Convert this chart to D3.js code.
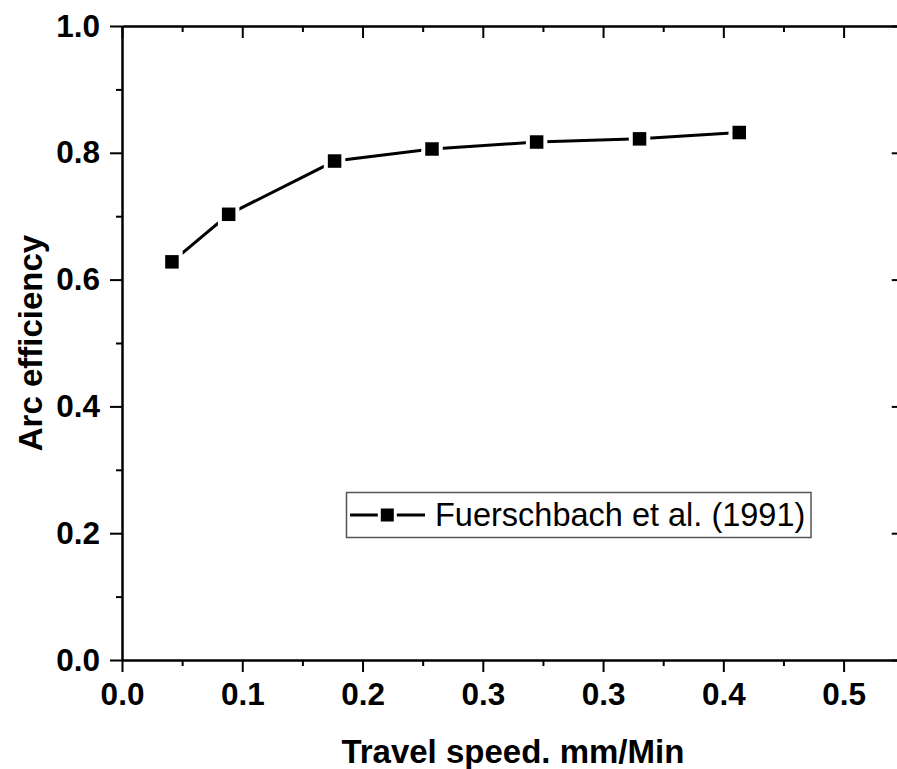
<!DOCTYPE html>
<html>
<head>
<meta charset="utf-8">
<script src="https://cdn.jsdelivr.net/npm/d3@7"></script>
<style>
  html, body { margin: 0; padding: 0; background: #fff; }
  svg { display: block; }
</style>
</head>
<body>
<svg id="chart" width="897" height="769"></svg>
<script>
// Arc efficiency vs travel speed (Fuerschbach et al., 1991)
const speed = [0.0346, 0.0739, 0.1473, 0.2148, 0.2873, 0.3586, 0.4277];
const efficiency = [0.628, 0.703, 0.787, 0.806, 0.817, 0.822, 0.832];
const seriesName = "Fuerschbach et al. (1991)";

// Tick positions: x steps of 1/12 (labels rounded to one decimal), y steps of 0.2
const xMajor = d3.range(0, 7).map(i => i * 0.5 / 6);
const xMinor = d3.range(0, 7).map(i => (i + 0.5) * 0.5 / 6);
const yMajor = [0, 0.2, 0.4, 0.6, 0.8, 1.0];
const yMinor = [0.1, 0.3, 0.5, 0.7, 0.9];

const xTitle = "Travel speed. mm/Min";
const yTitle = "Arc efficiency";

const plotLeft = 122, plotTop = 26, plotBottom = 660;
const xMax = 0.5 * 13 / 12;
const pxPerUnit = (843.3 - 121.7) / 0.5;
const plotRight = plotLeft + xMax * pxPerUnit;

const x = d3.scaleLinear().domain([0, xMax]).range([plotLeft, plotRight]);
const y = d3.scaleLinear().domain([0, 1]).range([plotBottom, plotTop]);

const svg = d3.select("#chart");
const font = "'Liberation Sans', Arial, Helvetica, sans-serif";
const fmt = d3.format(".1f");

function styleAxis(g) {
  g.selectAll("path.domain").attr("stroke", "#000").attr("stroke-width", 2);
  g.selectAll(".tick line").attr("stroke", "#000").attr("stroke-width", 2);
  g.selectAll(".tick text")
    .attr("font-family", font).attr("font-size", 31.5).attr("font-weight", "bold").attr("fill", "#000");
}

// bottom axis
svg.append("g").attr("transform", `translate(0,${plotBottom})`)
  .call(d3.axisBottom(x).tickValues(xMinor).tickSize(6).tickSizeOuter(0).tickFormat(""))
  .call(styleAxis);
svg.append("g").attr("transform", `translate(0,${plotBottom})`)
  .call(d3.axisBottom(x).tickValues(xMajor).tickSize(12).tickPadding(11).tickSizeOuter(0).tickFormat(fmt))
  .call(styleAxis);

// top axis (inward ticks)
svg.append("g").attr("transform", `translate(0,${plotTop})`)
  .call(d3.axisTop(x).tickValues(xMinor).tickSize(-6).tickSizeOuter(0).tickFormat(""))
  .call(styleAxis);
svg.append("g").attr("transform", `translate(0,${plotTop})`)
  .call(d3.axisTop(x).tickValues(xMajor).tickSize(-12).tickSizeOuter(0).tickFormat(""))
  .call(styleAxis);

// left axis
svg.append("g").attr("transform", `translate(${plotLeft},0)`)
  .call(d3.axisLeft(y).tickValues(yMinor).tickSize(6).tickSizeOuter(0).tickFormat(""))
  .call(styleAxis);
svg.append("g").attr("transform", `translate(${plotLeft},0)`)
  .call(d3.axisLeft(y).tickValues(yMajor).tickSize(12).tickPadding(10).tickSizeOuter(0).tickFormat(fmt))
  .call(styleAxis);

// right axis (inward ticks)
svg.append("g").attr("transform", `translate(${plotRight},0)`)
  .call(d3.axisRight(y).tickValues(yMinor).tickSize(-6).tickSizeOuter(0).tickFormat(""))
  .call(styleAxis);
svg.append("g").attr("transform", `translate(${plotRight},0)`)
  .call(d3.axisRight(y).tickValues(yMajor).tickSize(-12).tickSizeOuter(0).tickFormat(""))
  .call(styleAxis);

// axis titles
svg.append("text")
  .attr("x", (plotLeft + plotRight) / 2).attr("y", 763)
  .attr("text-anchor", "middle")
  .attr("font-family", font).attr("font-size", 33).attr("font-weight", "bold")
  .text(xTitle);
svg.append("text")
  .attr("transform", `translate(42,${(plotTop + plotBottom) / 2}) rotate(-90)`)
  .attr("text-anchor", "middle")
  .attr("font-family", font).attr("font-size", 33).attr("font-weight", "bold")
  .text(yTitle);

// series
const pts = speed.map((s, i) => [s, efficiency[i]]);
const line = d3.line().x(d => x(d[0])).y(d => y(d[1]));
svg.append("path").datum(pts)
  .attr("d", line).attr("fill", "none").attr("stroke", "#000").attr("stroke-width", 3);

const m = 13.5, gap = 4;
// white halo around each marker so the line stops short of it
svg.append("g").selectAll("rect").data(pts).join("rect")
  .attr("x", d => x(d[0]) - m / 2 - gap).attr("y", d => y(d[1]) - m / 2 - gap)
  .attr("width", m + 2 * gap).attr("height", m + 2 * gap).attr("fill", "#fff");
svg.append("g").selectAll("rect").data(pts).join("rect")
  .attr("x", d => x(d[0]) - m / 2).attr("y", d => y(d[1]) - m / 2)
  .attr("width", m).attr("height", m).attr("fill", "#000");

// legend
const lg = svg.append("g");
lg.append("rect").attr("x", 346.5).attr("y", 492.5).attr("width", 464.5).attr("height", 45)
  .attr("fill", "#fff").attr("stroke", "#555").attr("stroke-width", 1.5);
lg.append("line").attr("x1", 350).attr("x2", 425).attr("y1", 515).attr("y2", 515)
  .attr("stroke", "#000").attr("stroke-width", 3);
lg.append("rect").attr("x", 387.3 - 6.5 - 3).attr("y", 515 - 6.5).attr("width", 19).attr("height", 13).attr("fill", "#fff");
lg.append("rect").attr("x", 387.3 - 6.5).attr("y", 515 - 6.5).attr("width", 13).attr("height", 13).attr("fill", "#000");
lg.append("text").attr("x", 435).attr("y", 526)
  .attr("font-family", font).attr("font-size", 32.5).attr("fill", "#000")
  .text(seriesName);
</script>
</body>
</html>
